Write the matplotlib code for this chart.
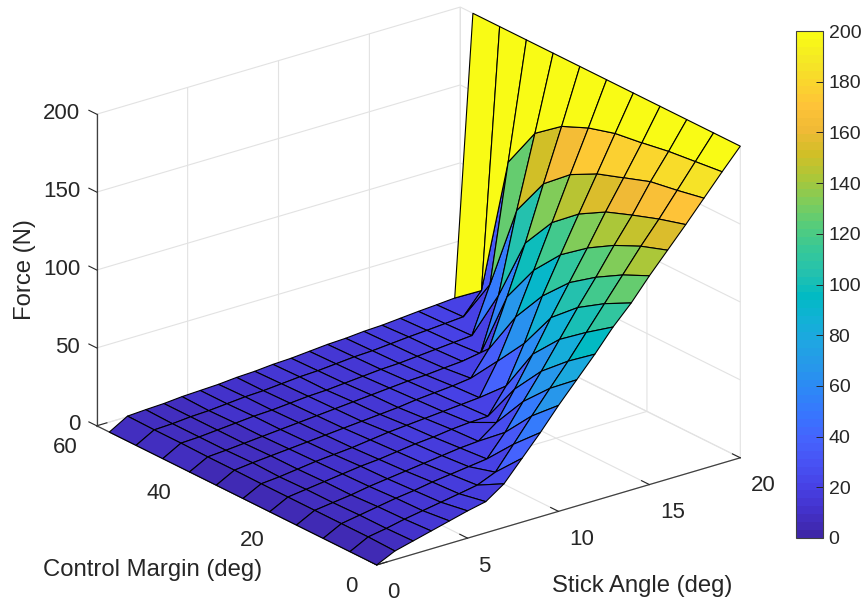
import numpy as np
import matplotlib
matplotlib.use("Agg")
import matplotlib.pyplot as plt
from matplotlib.cm import ScalarMappable
from matplotlib.colors import LinearSegmentedColormap, Normalize

plt.rcParams["font.family"] = ["Liberation Sans", "DejaVu Sans"]

# Axis data
stick_angle = list(range(21))
control_margin = [0, 5.73, 11.46, 17.19, 22.92, 28.65, 34.38, 40.11, 45.84, 51.57, 57.3]

x_ticks = [0, 5, 10, 15, 20]
y_ticks = [0, 20, 40, 60]
z_ticks = [0, 50, 100, 150, 200]
cbar_ticks = list(range(0, 201, 20))

# Force (N) along stick angle, one list per control margin
force_m0 = [0, 5.5, 8.5, 11.5, 14.5, 17.5, 20, 28, 41, 54, 68, 81, 94, 108, 120, 134, 147, 160, 173.5, 187, 200]
force_m1 = [0, 6, 8, 10.5, 12.5, 14.5, 16.5, 18.6, 23.5, 38, 52.7, 67, 81, 96, 111, 126, 141, 155, 170, 185, 200]
force_m2 = [0, 6, 8, 10, 12, 13.5, 15.5, 17, 18.5, 20, 33.6, 50, 66, 83, 100, 116, 133, 149, 167, 183, 200]
force_m3 = [0, 6, 7.5, 9, 11, 12.5, 14, 15.5, 17, 18.5, 19.4, 28, 46, 65, 85, 104, 122.8, 142.5, 161, 180, 200]
force_m4 = [0, 6, 7.5, 9, 10.5, 12, 13, 14.5, 16, 17, 18.5, 19.5, 20, 36, 60, 87, 110, 132.7, 155, 177.5, 200]
force_m5 = [0, 6, 7, 8.5, 10, 11, 12, 13.5, 15, 16, 17, 18, 19, 20, 40, 65, 91.6, 118.7, 146, 172.5, 200]
force_m6 = [0, 6.2, 7.5, 8.5, 9.5, 10.5, 11.5, 12.5, 13.5, 14.5, 15.5, 17, 18, 19, 20.5, 36, 66, 97, 131.6, 165, 200]
force_m7 = [0, 6.2, 7, 8, 9, 10, 11, 12, 13, 14, 15, 16, 17, 17.5, 18.5, 19.4, 20.9, 55, 106, 152, 200]
force_m8 = [0, 6.5, 7, 8, 9, 10, 10.5, 11.5, 12.5, 13, 14, 15, 16, 16.5, 17.5, 18.5, 19.5, 20.5, 50, 125, 200]
force_m9 = [0, 6.5, 7, 8, 8.5, 9.5, 10.5, 11, 12, 13, 13.5, 14.5, 15.5, 16, 17, 18, 18.8, 19.7, 20.6, 34, 200]
force_m10 = [0, 6.8, 7.5, 8, 9, 9.5, 10, 11, 11.5, 12.5, 13, 14, 15, 15.5, 16.5, 17, 18, 19, 19.8, 20.7, 200]

# parula, every third entry of the 64 level table
parula_colors = [
    (0.2422, 0.1504, 0.6603), (0.2647, 0.1978, 0.7952), (0.2783, 0.2559, 0.8991),
    (0.2810, 0.3228, 0.9579), (0.2699, 0.3892, 0.9906), (0.2206, 0.4603, 0.9973),
    (0.1786, 0.5289, 0.9682), (0.1540, 0.5902, 0.9218), (0.1248, 0.6459, 0.8883),
    (0.0689, 0.6948, 0.8394), (0.0067, 0.7312, 0.7660), (0.1408, 0.7584, 0.6842),
    (0.2161, 0.7843, 0.5923), (0.3406, 0.8008, 0.4789), (0.5044, 0.7993, 0.3480),
    (0.6720, 0.7793, 0.2227), (0.8203, 0.7498, 0.1535), (0.9393, 0.7288, 0.2100),
    (0.9970, 0.7659, 0.2199), (0.9786, 0.8386, 0.1766), (0.9597, 0.9135, 0.1423),
    (0.9769, 0.9839, 0.0805),
]

force = np.array([force_m0, force_m1, force_m2, force_m3, force_m4, force_m5,
                  force_m6, force_m7, force_m8, force_m9, force_m10])
X, Y = np.meshgrid(stick_angle, control_margin)

cmap = LinearSegmentedColormap.from_list("parula", parula_colors, N=64)
norm = Normalize(0, 200)

# each cell takes the colour of its far corner
cell_colors = cmap(norm(force))
cell_colors[:-1, :-1] = cell_colors[1:, 1:]

W, H = 865, 605
text_color = "#262626"
fig = plt.figure(figsize=(W / 100, H / 100), dpi=100)

# ---------------- SURFACE ----------------
side = 720
left = 418.5 - 0.5135 * side
bottom = 319 - 0.5135 * side
ax = fig.add_axes([left / W, bottom / H, side / W, side / H], projection="3d")
ax.set_proj_type("ortho")
ax.view_init(elev=22.5, azim=-127.6)
ax.set_box_aspect((1, 1, 0.735), zoom=710 / side)

ax.plot_surface(X, Y, force, facecolors=cell_colors, shade=False, rstride=1, cstride=1,
                edgecolor="black", linewidth=0.8, antialiased=True)

ax.set_xlim(0, 20, view_margin=0)
ax.set_ylim(0, 60, view_margin=0)
ax.set_zlim(0, 200, view_margin=0)
ax.set_xticks(x_ticks)
ax.set_yticks(y_ticks)
ax.set_zticks(z_ticks)
ax.tick_params(labelsize=16, labelcolor=text_color, color=text_color)
ax.tick_params(axis="x", pad=2.5)
ax.tick_params(axis="y", pad=6)
ax.tick_params(axis="z", pad=-1)

for axis in (ax.xaxis, ax.yaxis, ax.zaxis):
    axis.set_pane_color((1, 1, 1, 0))
    axis.pane.set_edgecolor("none")
    axis.line.set_color("#404040")
    axis.line.set_linewidth(0.9)
    axis._axinfo["grid"].update(color="#e2e2e2", linewidth=0.8)
    axis._axinfo["tick"].update(inward_factor=0, outward_factor=0.35, linewidth={True: 0.8, False: 0.8})

# z ticks run along the y direction
ax.zaxis._get_tickdir = lambda pos: 1

for t in ax.get_xticklabels():
    t.set_ha("left")
for t in ax.get_yticklabels():
    t.set_ha("right")
    t.set_va("center")
for t in ax.get_zticklabels():
    t.set_ha("right")
    t.set_va("center")

fig.text(642.5 / W, 1 - 586 / H, "Stick Angle (deg)", fontsize=17.2, color=text_color, ha="center", va="center")
fig.text(152.5 / W, 1 - 570 / H, "Control Margin (deg)", fontsize=17.2, color=text_color, ha="center", va="center")
fig.text(25 / W, 1 - 270 / H, "Force (N)", fontsize=17.2, color=text_color, ha="center", va="center", rotation=90)

# ---------------- COLORBAR ----------------
cax = fig.add_axes([796 / W, 1 - 538 / H, 27 / W, 507 / H])
cbar = fig.colorbar(ScalarMappable(norm=norm, cmap=cmap), cax=cax, ticks=cbar_ticks)
cbar.ax.tick_params(direction="in", length=5, width=0.7, labelsize=14, labelcolor=text_color, color=text_color, pad=4)
cbar.outline.set_edgecolor("#404040")
cbar.outline.set_linewidth(0.8)

fig.savefig("out.png", dpi=100)
